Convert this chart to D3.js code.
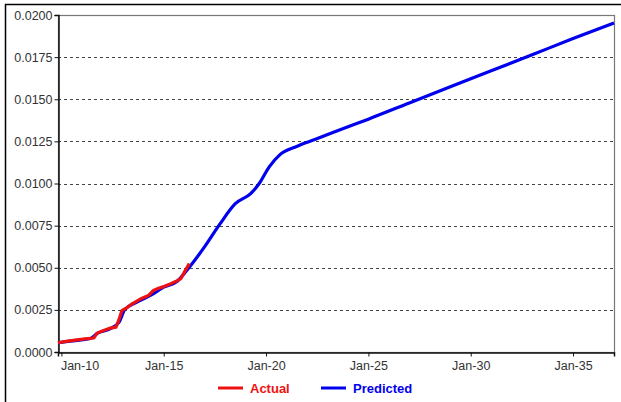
<!DOCTYPE html>
<html>
<head>
<meta charset="utf-8">
<script src="https://cdn.jsdelivr.net/npm/d3@7"></script>
<style>
  html, body { margin: 0; padding: 0; background: #fff; }
  svg { display: block; font-family: "Liberation Sans", Arial, sans-serif; }
</style>
</head>
<body>
<svg id="chart" width="621" height="402"></svg>
<script>
// Actual observations (date, value)
const actualDates = ["2009-11-01","2010-03-01","2010-09-01","2011-03-01","2011-08-01","2011-10-01","2012-01-01","2012-05-01","2012-09-01","2012-11-01","2012-12-15","2013-03-01","2013-06-01","2013-09-01","2013-12-01","2014-04-01","2014-07-01","2014-10-01","2015-01-01","2015-04-01","2015-08-01","2015-11-01","2016-01-15","2016-04-01"];
const actualValues = [0.00055,0.00062,0.00070,0.00078,0.00083,0.00112,0.00125,0.00140,0.00148,0.00200,0.00245,0.00260,0.00282,0.00300,0.00318,0.00335,0.00365,0.00378,0.00388,0.00400,0.00418,0.00435,0.00480,0.00525];

// Model prediction (date, value)
const predictedDates = ["2009-11-01","2010-06-01","2011-06-01","2011-10-01","2012-06-01","2012-11-01","2013-02-01","2013-09-01","2014-06-01","2015-01-01","2015-09-01","2016-03-01","2017-01-01","2017-10-01","2018-07-01","2019-04-01","2019-09-01","2020-03-01","2020-09-01","2021-07-01","2022-06-01","2023-10-01","2025-01-01","2027-01-01","2030-01-01","2033-01-01","2035-01-01","2037-01-01"];
const predictedValues = [0.00055,0.00065,0.00080,0.00110,0.00140,0.00180,0.00250,0.00295,0.00340,0.00385,0.00420,0.00490,0.00625,0.00760,0.00880,0.00940,0.01000,0.01100,0.01170,0.01220,0.01262,0.01325,0.01382,0.01478,0.01621,0.01764,0.01860,0.01952];

const yTicks = [0, 0.0025, 0.005, 0.0075, 0.01, 0.0125, 0.015, 0.0175, 0.02];
const xTickYears = [2010, 2015, 2020, 2025, 2030, 2035];

const legendItems = [
  { name: "Actual", color: "#ee1111" },
  { name: "Predicted", color: "#0000ee" }
];

const svg = d3.select("#chart");
const parse = d3.utcParse("%Y-%m-%d");

const plot = { left: 58, top: 15, right: 614, bottom: 352 };

const x = d3.scaleUtc()
  .domain([parse("2009-11-01"), parse("2037-01-01")])
  .range([plot.left, plot.right]);
const y = d3.scaleLinear()
  .domain([0, 0.02])
  .range([plot.bottom, plot.top]);

// outer frame (top and left edges)
svg.append("path")
  .attr("d", "M5.5,402 V4.5 H621")
  .attr("fill", "none").attr("stroke", "#000").attr("stroke-width", 1.5);

// plot box
svg.append("rect")
  .attr("x", plot.left + 0.5).attr("y", plot.top + 0.5)
  .attr("width", plot.right - plot.left).attr("height", plot.bottom - plot.top)
  .attr("fill", "#fff").attr("stroke", "#777").attr("stroke-width", 1.2);

// horizontal dashed grid
svg.append("g").selectAll("line")
  .data(yTicks.filter(v => v > 0 && v < 0.02))
  .join("line")
  .attr("x1", plot.left).attr("x2", plot.right)
  .attr("y1", d => Math.round(y(d)) + 0.5).attr("y2", d => Math.round(y(d)) + 0.5)
  .attr("stroke", "#444").attr("stroke-width", 1.2)
  .attr("stroke-dasharray", "3,3");

// y axis
const yAxis = svg.append("g")
  .attr("transform", `translate(${plot.left + 0.5},0)`)
  .call(d3.axisLeft(y).tickValues(yTicks).tickFormat(d3.format(".4f")).tickSize(4).tickPadding(2));
yAxis.select(".domain").attr("stroke", "#111").attr("stroke-width", 1.5);
yAxis.selectAll(".tick line").attr("stroke", "#111");
yAxis.selectAll("text").attr("font-size", 12.5).attr("fill", "#333")
  .attr("font-family", "Liberation Sans, Arial, sans-serif");

// x axis
const xAxis = svg.append("g")
  .attr("transform", `translate(0,${plot.bottom + 0.5})`)
  .call(d3.axisBottom(x)
    .tickValues(xTickYears.map(yr => new Date(Date.UTC(yr, 0, 1))))
    .tickFormat(d3.utcFormat("Jan-%y"))
    .tickSize(4).tickPadding(5));
xAxis.select(".domain").attr("stroke", "#111").attr("stroke-width", 1.5);
xAxis.selectAll(".tick line").attr("stroke", "#111");
xAxis.selectAll("text").attr("font-size", 12.5).attr("fill", "#333")
  .attr("font-family", "Liberation Sans, Arial, sans-serif");
// keep the first label inside the plot's left edge
xAxis.selectAll(".tick").filter((d, i) => i === 0).select("text")
  .attr("text-anchor", "start").attr("dx", -1);

const line = d3.line()
  .x(d => x(d.date))
  .y(d => y(d.value));

const predicted = predictedDates.map((d, i) => ({ date: parse(d), value: predictedValues[i] }));
const actual = actualDates.map((d, i) => ({ date: parse(d), value: actualValues[i] }));

svg.append("path")
  .datum(predicted)
  .attr("d", line.curve(d3.curveMonotoneX))
  .attr("fill", "none").attr("stroke", "#0000ee").attr("stroke-width", 3.2)
  .attr("stroke-linejoin", "round");

svg.append("path")
  .datum(actual)
  .attr("d", line.curve(d3.curveLinear))
  .attr("fill", "none").attr("stroke", "#ee1111").attr("stroke-width", 3.2)
  .attr("stroke-linejoin", "round");

// legend
const legendX = [218, 321];
const legend = svg.append("g").selectAll("g")
  .data(legendItems)
  .join("g")
  .attr("transform", (d, i) => `translate(${legendX[i]},388)`);
legend.append("line")
  .attr("x1", 0).attr("x2", 25).attr("y1", 0).attr("y2", 0)
  .attr("stroke", d => d.color).attr("stroke-width", 3);
legend.append("text")
  .attr("x", 32).attr("y", 4.5)
  .attr("font-size", 13).attr("font-weight", "bold")
  .attr("fill", d => d.color)
  .text(d => d.name);
</script>
</body>
</html>
